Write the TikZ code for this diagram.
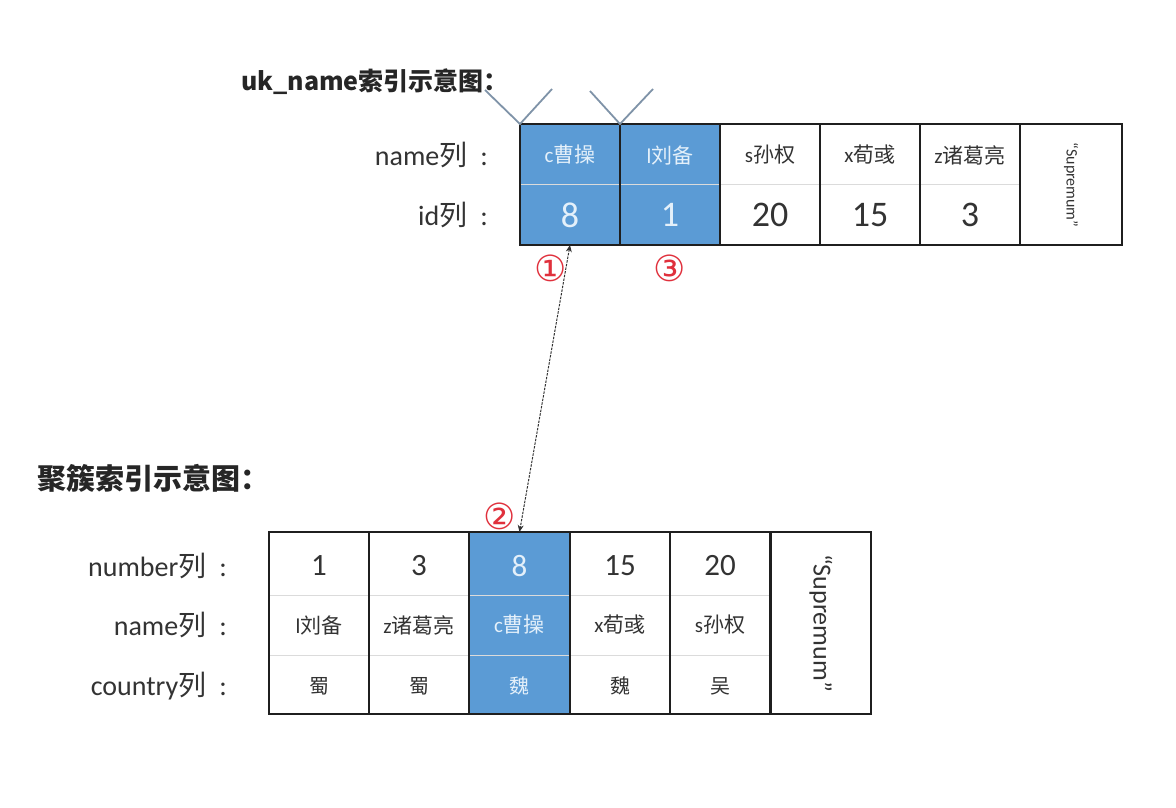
\documentclass[tikz,border=0pt]{standalone}
\usepackage{fontspec}
\setmainfont{Carlito}
\newfontfamily\cjk{Noto Sans CJK SC}
\newfontfamily\sym{DejaVu Sans}
\newcommand\zh[1]{{\cjk #1}}
\usetikzlibrary{arrows.meta}
\definecolor{cblue}{HTML}{5B9BD5}
\definecolor{hltxt}{HTML}{E4F0FA}
\definecolor{txt}{HTML}{333333}
\definecolor{vcol}{HTML}{7F93A8}
\definecolor{cred}{HTML}{E0303C}
\tikzset{
  colbox/.style={inner sep=0pt, outer sep=0pt, minimum width=100pt},
  frame/.style={draw=black!88, line width=1.8pt},
  divider/.style={draw=black!14, line width=1pt},
  numtop/.style={font=\fontsize{36}{40}\selectfont, text=txt, inner sep=0pt},
  numbot/.style={font=\fontsize{31}{34}\selectfont, text=txt, inner sep=0pt},
  nametxt/.style={font=\fontsize{21}{24}\selectfont, text=txt, inner sep=0pt},
  hl/.style={text=hltxt},
  lbl/.style={font=\fontsize{28}{30}\selectfont, text=txt, inner sep=0pt, anchor=east},
  ttl/.style={font=\cjk\bfseries\fontsize{25}{28}\selectfont, text=black!85, inner sep=0pt, anchor=west},
  circnum/.style={font=\sym\fontsize{36}{40}\selectfont, text=cred, inner sep=0pt},
  vline/.style={draw=vcol, line width=1.8pt},
  link/.style={draw=black!80, line width=1pt, dash pattern=on 2.5pt off 1.2pt, {Stealth[length=7pt,width=6pt]}-{Stealth[length=7pt,width=6pt]}},
}
\newcommand\colsep{\hspace{13pt}:}
\begin{document}
\begin{tikzpicture}[x=1pt,y=-1pt]
\useasboundingbox[fill=white] (0,0) rectangle (1176,808);

% ---------- titles ----------
\node[ttl] (title1) at (241,82) {uk\_name索引示意图：};
\node[ttl, font=\cjk\bfseries\fontsize{29}{32}\selectfont] (title2) at (37,478) {聚簇索引示意图：};

% ---------- top table (uk_name) ----------
\node[colbox, minimum height=121pt, fill=cblue] (t1) at (570,184.5) {};
\node[colbox, minimum height=121pt, fill=cblue] (t2) at (670,184.5) {};
\node[colbox, minimum height=121pt] (t3) at (770,184.5) {};
\node[colbox, minimum height=121pt] (t4) at (870,184.5) {};
\node[colbox, minimum height=121pt] (t5) at (970,184.5) {};
\node[colbox, minimum height=121pt, minimum width=102pt] (t6) at (1071,184.5) {};
\draw[divider] (t1.west) -- (t5.east);
\foreach \c in {t1,t2,t3,t4,t5,t6}{\draw[frame] (\c.north west) rectangle (\c.south east);}

\node[nametxt, hl] (t1a) at (570,155) {c\zh{曹操}};
\node[nametxt, hl] (t2a) at (670,155) {l\zh{刘备}};
\node[nametxt] (t3a) at (770,155) {s\zh{孙权}};
\node[nametxt] (t4a) at (870,155) {x\zh{荀彧}};
\node[nametxt] (t5a) at (970,155) {z\zh{诸葛亮}};
\node[numtop, hl] (t1b) at (570,215) {8};
\node[numtop, hl] (t2b) at (670,215) {1};
\node[numtop] (t3b) at (770,215) {20};
\node[numtop] (t4b) at (870,215) {15};
\node[numtop] (t5b) at (970,215) {3};
\node[font=\fontsize{16}{18}\selectfont, text=txt, rotate=-90, inner sep=0pt] (t6a) at (1071,185) {“Supremum”};

\node[lbl] (lname1) at (488,155) {name\zh{列}\colsep};
\node[lbl] (lid1) at (488,215) {id\zh{列}\colsep};

% V marks above top table
\coordinate (v1l) at (485,90);
\coordinate (v1r) at (552,89);
\coordinate (v2l) at (590,91);
\coordinate (v2r) at (653,89);
\draw[vline] (v1l) -- (t1.north west) -- (v1r);
\draw[vline] (v2l) -- (t2.north west) -- (v2r);

% ---------- bottom table (clustered) ----------
\node[colbox, minimum height=182pt] (b1) at (319,623) {};
\node[colbox, minimum height=182pt] (b2) at (419,623) {};
\node[colbox, minimum height=182pt, fill=cblue] (b3) at (519.5,623) {};
\node[colbox, minimum height=182pt] (b4) at (620,623) {};
\node[colbox, minimum height=182pt] (b5) at (720,623) {};
\node[colbox, minimum height=182pt] (b6) at (821,623) {};
\draw[divider] (269,595) -- (771,595);
\draw[divider] (269,655) -- (771,655);
\foreach \c in {b1,b2,b3,b4,b5,b6}{\draw[frame] (\c.north west) rectangle (\c.south east);}

\node[numbot] (b1a) at (319,566) {1};
\node[numbot] (b2a) at (419,566) {3};
\node[numbot, hl] (b3a) at (519.5,566) {8};
\node[numbot] (b4a) at (620,566) {15};
\node[numbot] (b5a) at (720,566) {20};
\node[nametxt] (b1b) at (319,625) {l\zh{刘备}};
\node[nametxt] (b2b) at (419,625) {z\zh{诸葛亮}};
\node[nametxt, hl] (b3b) at (519.5,625) {c\zh{曹操}};
\node[nametxt] (b4b) at (620,625) {x\zh{荀彧}};
\node[nametxt] (b5b) at (720,625) {s\zh{孙权}};
\node[nametxt, font=\cjk\fontsize{20}{22}\selectfont] (b1c) at (319,686) {蜀};
\node[nametxt, font=\cjk\fontsize{20}{22}\selectfont] (b2c) at (419,686) {蜀};
\node[nametxt, hl, font=\cjk\fontsize{20}{22}\selectfont] (b3c) at (519.5,686) {魏};
\node[nametxt, font=\cjk\fontsize{20}{22}\selectfont] (b4c) at (620,686) {魏};
\node[nametxt, font=\cjk\fontsize{20}{22}\selectfont] (b5c) at (720,686) {吴};
\node[font=\fontsize{26}{28}\selectfont, text=txt, rotate=-90, inner sep=0pt] (b6a) at (821,623) {“Supremum”};

\node[lbl] (lnum) at (227,566) {number\zh{列}\colsep};
\node[lbl] (lname2) at (227,625) {name\zh{列}\colsep};
\node[lbl] (lcty) at (227,686) {country\zh{列}\colsep};

% ---------- link and step numbers ----------
\draw[link] (t1.south) -- (b3.north);
\node[circnum] (s1) at (551,268) {①};
\node[circnum] (s3) at (670,268) {③};
\node[circnum] (s2) at (500,516) {②};
\end{tikzpicture}
\end{document}
